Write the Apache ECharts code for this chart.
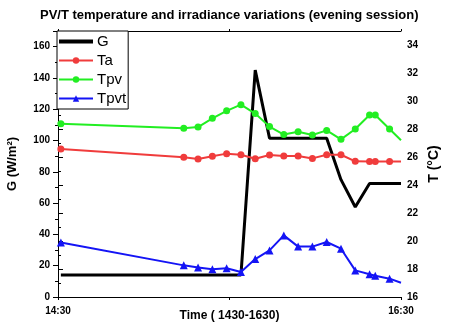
<!DOCTYPE html>
<html>
<head>
<meta charset="utf-8">
<script src="https://cdn.jsdelivr.net/npm/echarts@6/dist/echarts.min.js"></script>
<style>
  html, body { margin: 0; padding: 0; background: #fff; }
  #chart { width: 450px; height: 331px; }
</style>
</head>
<body>
<div id="chart"></div>
<script>
// sample times (evening session)
const times = ['14:31', '15:14', '15:19', '15:24', '15:29', '15:34', '15:39', '15:44', '15:49',
  '15:54', '15:59', '16:04', '16:09', '16:14', '16:19', '16:21', '16:26', '16:30'];
const gValues = [14, 14, 14, 14, 14, 14, 145, 101.5, 101.5, 101.5, 101.5, 101.5, 75, 57.5, 72.5, 72.5, 72.5, 72.5];
const taValues = [26.57, 25.98, 25.86, 26.05, 26.24, 26.16, 25.88, 26.14, 26.07, 26.07, 25.9, 26.16, 26.16,
  25.69, 25.67, 25.67, 25.67, 25.67];
const tpvValues = [28.38, 28.05, 28.14, 28.76, 29.3, 29.74, 29.1, 28.17, 27.6, 27.8, 27.57, 27.9, 27.26,
  28.0, 29.0, 29.0, 28.0, 27.2];
const tpvtValues = [19.9, 18.26, 18.1, 17.98, 18.05, 17.79, 18.71, 19.33, 20.4, 19.6, 19.6, 19.93, 19.45,
  17.9, 17.62, 17.52, 17.31, 17.02];
const xTickLabels = { 0: '14:30', 60: '', 120: '16:30' };

const font = "'Liberation Sans', Arial, sans-serif";
const start = 14 * 60 + 30;
const toMin = t => { const p = t.split(':'); return +p[0] * 60 + +p[1] - start; };

// last point sits on the frame edge, no marker there
const pairs = vals => vals.map((v, i) => {
  const item = { value: [toMin(times[i]), v] };
  if (i === vals.length - 1) item.symbol = 'none';
  return item;
});

const axisLine = { show: true, lineStyle: { color: '#000', width: 1 } };

const option = {
  animation: false,
  backgroundColor: '#fff',
  title: {
    text: 'PV/T temperature and irradiance variations (evening session)',
    left: 35,
    top: 4,
    textStyle: { fontFamily: font, fontSize: 13, fontWeight: 'bold', color: '#000' }
  },
  grid: { left: 58, right: 49, top: 31, bottom: 34, containLabel: false, outerBoundsMode: 'none' },
  legend: {
    orient: 'vertical',
    left: 57,
    top: 31,
    padding: [3, 2, 3, 0],
    itemGap: 4,
    itemWidth: 34,
    itemHeight: 8,
    borderColor: '#000',
    borderWidth: 1,
    backgroundColor: '#fff',
    data: [{ name: 'G', itemStyle: { opacity: 0 }, lineStyle: { width: 4 } }, 'Ta', 'Tpv', 'Tpvt'],
    textStyle: { fontFamily: font, fontSize: 15, color: '#000', padding: [0, 0, 0, -1] }
  },
  xAxis: [{
    type: 'value',
    min: 0,
    max: 120,
    interval: 60,
    name: 'Time ( 1430-1630)',
    nameLocation: 'middle',
    nameGap: 13,
    nameMoveOverlap: false,
    nameTextStyle: { fontFamily: font, fontSize: 12, fontWeight: 'bold', color: '#000' },
    axisLine: axisLine,
    axisTick: { show: true, length: 3, lineStyle: { color: '#000' } },
    splitLine: { show: false },
    axisLabel: {
      margin: 9,
      fontFamily: font, fontSize: 10, fontWeight: 'bold', color: '#000',
      formatter: v => xTickLabels[v] !== undefined ? xTickLabels[v] : ''
    }
  }, {
    type: 'value',
    position: 'top',
    min: 0,
    max: 120,
    interval: 60,
    axisLine: axisLine,
    axisTick: { show: true, length: 2, lineStyle: { color: '#000' } },
    axisLabel: { show: false },
    splitLine: { show: false }
  }],
  yAxis: [{
    type: 'value',
    min: 0,
    max: 170,
    interval: 20,
    name: 'G (W/m²)',
    nameLocation: 'middle',
    nameGap: 39,
    nameRotate: 90,
    nameMoveOverlap: false,
    nameTextStyle: { fontFamily: font, fontSize: 13, fontWeight: 'bold', color: '#000' },
    axisLine: axisLine,
    axisTick: { show: true, length: 5, lineStyle: { color: '#000' } },
    minorTick: { show: true, splitNumber: 2, length: 3, lineStyle: { color: '#000' } },
    splitLine: { show: false },
    axisLabel: {
      margin: 8, showMaxLabel: false,
      fontFamily: font, fontSize: 10, fontWeight: 'bold', color: '#000'
    }
  }, {
    type: 'value',
    position: 'right',
    min: 16,
    max: 35,
    interval: 2,
    name: 'T (°C)',
    nameLocation: 'middle',
    nameGap: 26,
    nameRotate: 90,
    nameMoveOverlap: false,
    nameTextStyle: { fontFamily: font, fontSize: 14, fontWeight: 'bold', color: '#000' },
    axisLine: axisLine,
    axisTick: { show: true, length: 5, lineStyle: { color: '#000' } },
    minorTick: { show: true, splitNumber: 2, length: 3, lineStyle: { color: '#000' } },
    splitLine: { show: false },
    axisLabel: {
      margin: 6, showMaxLabel: false,
      fontFamily: font, fontSize: 10, fontWeight: 'bold', color: '#000'
    }
  }],
  series: [{
    name: 'G',
    type: 'line',
    yAxisIndex: 0,
    symbol: 'none',
    lineStyle: { color: '#000', width: 3 },
    itemStyle: { color: '#000' },
    data: gValues.map((v, i) => [toMin(times[i]), v]),
    z: 3
  }, {
    name: 'Ta',
    type: 'line',
    yAxisIndex: 1,
    symbol: 'circle',
    symbolSize: 7,
    lineStyle: { color: '#F03C3C', width: 2 },
    itemStyle: { color: '#F03C3C' },
    data: pairs(taValues)
  }, {
    name: 'Tpv',
    type: 'line',
    yAxisIndex: 1,
    symbol: 'circle',
    symbolSize: 7,
    lineStyle: { color: '#22EE22', width: 2 },
    itemStyle: { color: '#22EE22' },
    data: pairs(tpvValues)
  }, {
    name: 'Tpvt',
    type: 'line',
    yAxisIndex: 1,
    symbol: 'triangle',
    symbolSize: 8,
    lineStyle: { color: '#1414F5', width: 2 },
    itemStyle: { color: '#1414F5' },
    data: pairs(tpvtValues)
  }]
};

const chart = echarts.init(document.getElementById('chart'), null, { renderer: 'canvas' });
chart.setOption(option);
</script>
</body>
</html>
